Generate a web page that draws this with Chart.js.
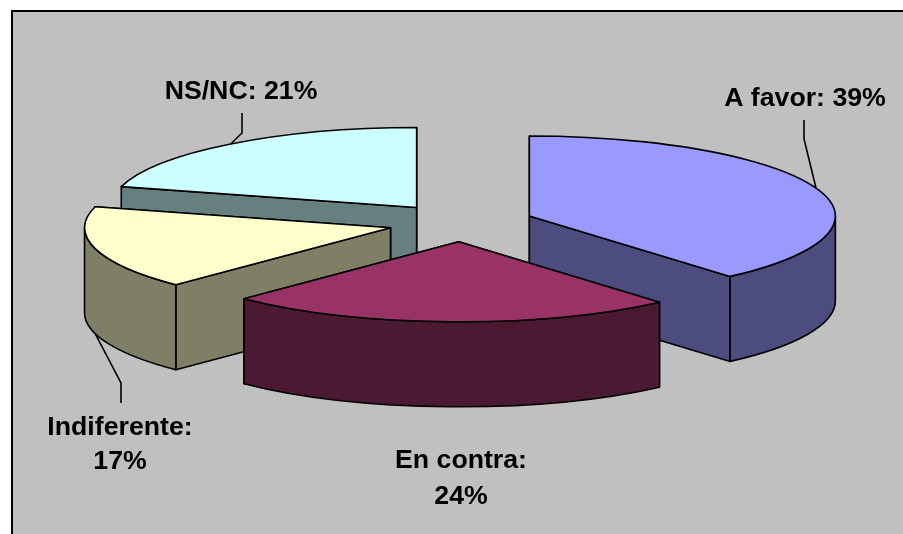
<!DOCTYPE html>
<html>
<head>
<meta charset="utf-8">
<style>
html,body{margin:0;padding:0;background:#fff;width:903px;height:534px;overflow:hidden}
canvas{display:block;position:absolute;left:0;top:0}
</style>
<script src="https://cdn.jsdelivr.net/npm/chart.js@4/dist/chart.umd.js"></script>
</head>
<body>
<canvas id="c" width="903" height="534"></canvas>
<script>
const categories = ['A favor', 'En contra', 'Indiferente', 'NS/NC'];
const values = [39, 24, 17, 21];
const topColors = ['#9999FF', '#993366', '#FFFFCC', '#CCFFFF'];
const wallColors = ['#4C4C7F', '#4C1933', '#7F7F66', '#667F7F'];
const paintOrder = [3, 2, 0, 1];

const view = { cx: 461, cy: 222.7, rx: 306, ry: 80, depth: 85, explode: 73 };
const labelLines = [['A favor: 39%'], ['En contra:', '24%'], ['Indiferente:', '17%'], ['NS/NC: 21%']];
const labelCentres = [[805, 106], [461, 468], [120, 435], [241, 99]];
const labelLeading = [0, 35.5, 34, 0];
const leaderPaths = [[[804, 139], [804, 120]], null, [[121, 383], [121, 403]], [[242, 133], [242, 113]]];
const leaderOnBase = [false, false, true, false];

function sliceGeom(arc) {
  const mid = (arc.startAngle + arc.endAngle) / 2;
  const x = view.cx + Math.cos(mid) * view.explode;
  const y = view.cy + Math.sin(mid) * view.explode * view.ry / view.rx;
  return { x, y, mid, at: a => [x + Math.cos(a) * view.rx, y + Math.sin(a) * view.ry] };
}

class Pie3D extends Chart.PieController {
  draw() {
    const ctx = this.chart.ctx;
    const arcs = this._cachedMeta.data;
    ctx.save();
    ctx.lineJoin = 'round';
    ctx.lineWidth = 1.6;
    ctx.strokeStyle = '#000';
    paintOrder.forEach(i => {
      const arc = arcs[i];
      const g = sliceGeom(arc);
      const d = view.depth;
      const s = arc.startAngle, e = arc.endAngle;
      ctx.fillStyle = wallColors[i];
      // radial walls, the one further back first
      [s, e].sort((a, b) => Math.sin(a) - Math.sin(b)).forEach(a => {
        const p = g.at(a);
        ctx.beginPath();
        ctx.moveTo(g.x, g.y);
        ctx.lineTo(p[0], p[1]);
        ctx.lineTo(p[0], p[1] + d);
        ctx.lineTo(g.x, g.y + d);
        ctx.closePath();
        ctx.fill();
        ctx.stroke();
      });
      // curved outer wall, lower half of the ellipse only
      const lo = Math.max(s, 0), hi = Math.min(e, Math.PI);
      if (hi > lo) {
        ctx.beginPath();
        ctx.ellipse(g.x, g.y, view.rx, view.ry, 0, lo, hi);
        ctx.ellipse(g.x, g.y + d, view.rx, view.ry, 0, hi, lo, true);
        ctx.closePath();
        ctx.fill();
        ctx.stroke();
      }
      // top face, drawn by the library's arc element
      ctx.save();
      ctx.translate(g.x, g.y);
      ctx.scale(1, view.ry / view.rx);
      ctx.translate(-arc.x, -arc.y);
      arc.draw(ctx);
      ctx.restore();
      ctx.beginPath();
      ctx.moveTo(g.x, g.y);
      ctx.ellipse(g.x, g.y, view.rx, view.ry, 0, s, e);
      ctx.closePath();
      ctx.stroke();
    });
    ctx.restore();
  }
}
Pie3D.id = 'pie3d';
Pie3D.defaults = Chart.PieController.defaults;
Chart.register(Pie3D);

const panelPlugin = {
  id: 'panel',
  beforeDraw(chart) {
    const ctx = chart.ctx;
    ctx.save();
    ctx.fillStyle = '#C0C0C0';
    ctx.fillRect(11, 10, 892, 524);
    ctx.fillStyle = '#000';
    ctx.fillRect(11, 10, 892, 2);
    ctx.fillRect(11, 10, 2, 524);
    ctx.restore();
  }
};

const labelPlugin = {
  id: 'sliceLabels',
  afterDatasetsDraw(chart) {
    const ctx = chart.ctx;
    const arcs = chart.getDatasetMeta(0).data;
    ctx.save();
    ctx.strokeStyle = '#000';
    ctx.lineWidth = 1.6;
    arcs.forEach((arc, i) => {
      if (!leaderPaths[i]) return;
      const g = sliceGeom(arc);
      const tip = g.at(g.mid);
      ctx.beginPath();
      ctx.moveTo(tip[0], tip[1] + (leaderOnBase[i] ? view.depth : 0));
      leaderPaths[i].forEach(p => ctx.lineTo(p[0], p[1]));
      ctx.stroke();
    });
    ctx.fillStyle = '#000';
    ctx.textAlign = 'center';
    ctx.textBaseline = 'alphabetic';
    ctx.font = 'bold 26.7px "Liberation Sans", Arial, sans-serif';
    labelLines.forEach((lines, i) => {
      lines.forEach((t, j) => ctx.fillText(t, labelCentres[i][0], labelCentres[i][1] + j * labelLeading[i]));
    });
    ctx.restore();
  }
};

new Chart(document.getElementById('c'), {
  type: 'pie3d',
  data: {
    labels: categories,
    datasets: [{ data: values, backgroundColor: topColors, borderWidth: 0, offset: 0 }]
  },
  options: {
    responsive: false,
    animation: false,
    radius: view.rx,
    layout: { padding: 0 },
    plugins: { legend: { display: false }, tooltip: { enabled: false } }
  },
  plugins: [panelPlugin, labelPlugin]
});
</script>
</body>
</html>
